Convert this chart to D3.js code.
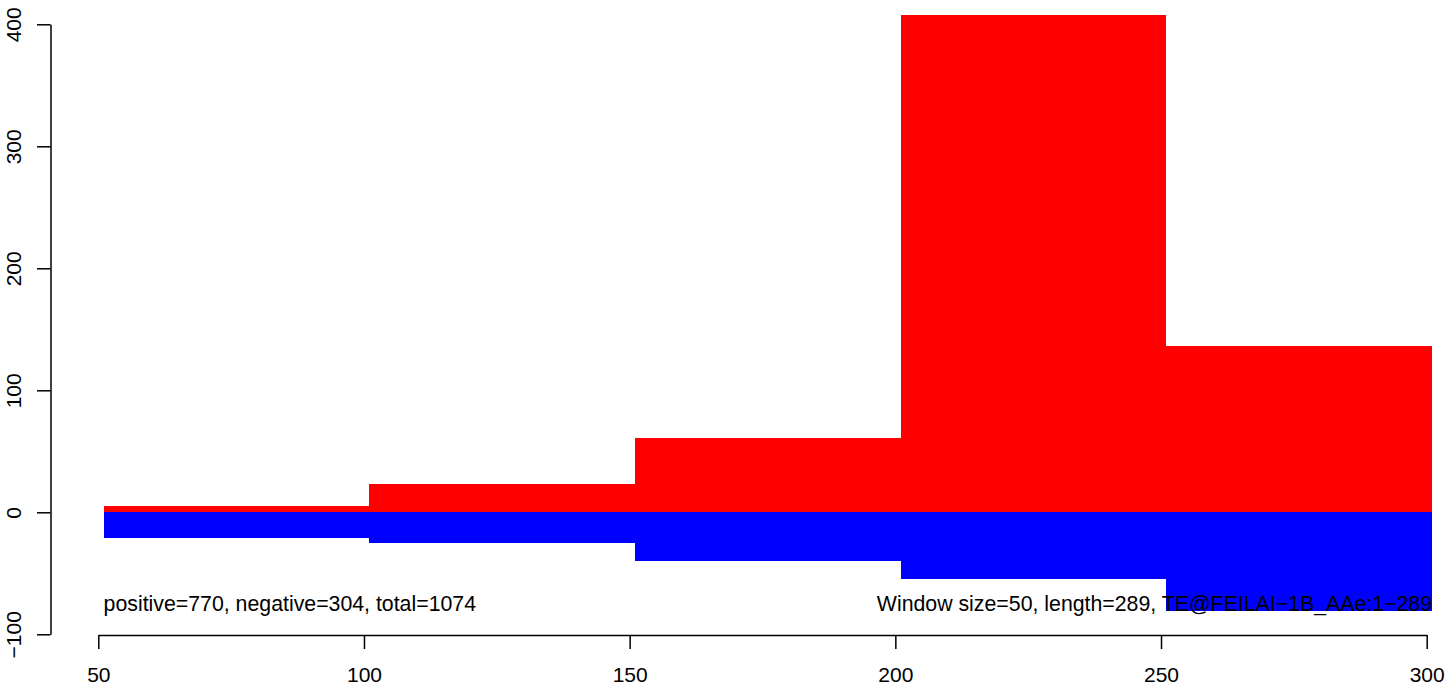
<!DOCTYPE html>
<html>
<head>
<meta charset="utf-8">
<script src="https://cdn.jsdelivr.net/npm/d3@7"></script>
<style>
  html, body { margin: 0; padding: 0; background: #fff; }
  svg { display: block; }
  text { font-family: "Liberation Sans", Arial, Helvetica, sans-serif; fill: #000; }
</style>
</head>
<body>
<svg id="chart" width="1449" height="687"></svg>
<script>
// ---- data ----
const windowStarts = [51, 101, 151, 201, 251];
const windowEnds   = [101, 151, 201, 251, 301];
const positiveValues = [5, 23, 61, 408, 136];
const negativeValues = [-21, -25, -40, -55, -81];
const xTicks = [50, 100, 150, 200, 250, 300];
const yTicks = [-100, 0, 100, 200, 300, 400];
const leftNote = "positive=770, negative=304, total=1074";
const rightNote = "Window size=50, length=289, TE@FEILAI\u22121B_AAe:1\u2212289";
const noteX = [51, 301];
const noteY = -80.5;

// ---- drawing ----
const svg = d3.select("#chart");
const x = d3.scaleLinear().domain([50, 300]).range([98.3, 1426.7]);
const y = d3.scaleLinear().domain([-100, 400]).range([634.3, 24.3]);

const bars = windowStarts.map((s, i) => ({ s, e: windowEnds[i], pos: positiveValues[i], neg: negativeValues[i] }));

svg.append("g").selectAll("rect").data(bars).join("rect")
  .attr("x", d => x(d.s))
  .attr("width", d => x(d.e) - x(d.s))
  .attr("y", d => y(d.pos))
  .attr("height", d => y(0) - y(d.pos))
  .attr("fill", "#ff0000")
  .attr("shape-rendering", "crispEdges");

svg.append("g").selectAll("rect").data(bars).join("rect")
  .attr("x", d => x(d.s))
  .attr("width", d => x(d.e) - x(d.s))
  .attr("y", y(0))
  .attr("height", d => y(d.neg) - y(0))
  .attr("fill", "#0000ff")
  .attr("shape-rendering", "crispEdges");

// text notes
svg.append("text")
  .attr("x", x(noteX[0])).attr("y", y(noteY))
  .attr("font-size", 21.3).attr("text-anchor", "start")
  .text(leftNote);
svg.append("text")
  .attr("x", x(noteX[1])).attr("y", y(noteY))
  .attr("font-size", 21.3).attr("text-anchor", "end")
  .text(rightNote);

// x axis (R style)
const xAxis = d3.axisBottom(x).tickValues(xTicks).tickFormat(d3.format("d"))
  .tickSizeInner(14).tickSizeOuter(0).tickPadding(18);
const gx = svg.append("g").attr("transform", "translate(0,635)").call(xAxis);
gx.selectAll("path, line").attr("stroke", "#000").attr("stroke-width", 1.5);
gx.selectAll("text").attr("font-size", 21).attr("font-family", "Liberation Sans, Arial, sans-serif").attr("fill", "#000");

// y axis (R style, rotated labels)
const yAxis = d3.axisLeft(y).tickValues(yTicks).tickFormat(d => d < 0 ? "\u2212" + Math.abs(d) : String(d))
  .tickSizeInner(13.5).tickSizeOuter(0);
const gy = svg.append("g").attr("transform", "translate(50.5,0)").call(yAxis);
gy.selectAll("path, line").attr("stroke", "#000").attr("stroke-width", 1.5);
gy.selectAll(".tick text")
  .attr("font-size", 21).attr("font-family", "Liberation Sans, Arial, sans-serif").attr("fill", "#000")
  .attr("x", null).attr("dy", null)
  .attr("text-anchor", "middle")
  .attr("transform", "translate(-29.5,0) rotate(-90)");
</script>
</body>
</html>
